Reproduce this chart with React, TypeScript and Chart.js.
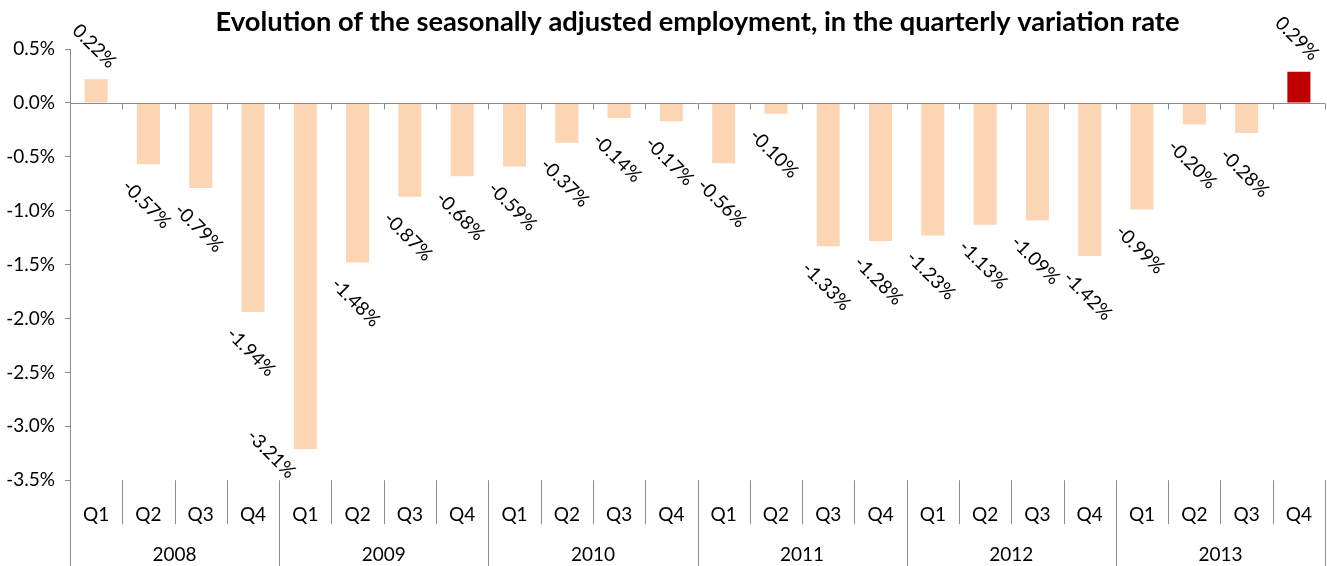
import React, { useEffect, useRef } from "react";
import { Chart, registerables } from "chart.js";

Chart.register(...registerables);

const TITLE = "Evolution of the seasonally adjusted employment, in the quarterly variation rate";
const YEARS = ["2008", "2009", "2010", "2011", "2012", "2013"];
const QUARTERS = ["Q1", "Q2", "Q3", "Q4"];
const CATEGORIES = YEARS.flatMap((y) => QUARTERS.map((q) => `${q} ${y}`));
const VALUES = [
  0.22, -0.57, -0.79, -1.94,
  -3.21, -1.48, -0.87, -0.68,
  -0.59, -0.37, -0.14, -0.17,
  -0.56, -0.10, -1.33, -1.28,
  -1.23, -1.13, -1.09, -1.42,
  -0.99, -0.20, -0.28, 0.29,
];
const HIGHLIGHT_INDEX = 23;
const Y_MIN = -3.5;
const Y_MAX = 0.5;
const Y_STEP = 0.5;

const FONT = "Lato, 'Noto Sans', sans-serif";
const AXIS_GREY = "#8c8c8c";
const PEACH = "#FCD5B5";
const DARK_RED = "#C00000";

const decorPlugin = {
  id: "decor",
  afterDatasetsDraw(chart: any) {
    const { ctx, chartArea, scales } = chart;
    const x = scales.x;
    const y = scales.y;
    const n = VALUES.length;
    const step = (x.getPixelForValue(1) - x.getPixelForValue(0));
    const zeroY = Math.round(y.getPixelForValue(0)) + 0.5;

    ctx.save();
    // zero line with tick marks
    ctx.strokeStyle = AXIS_GREY;
    ctx.lineWidth = 1;
    ctx.beginPath();
    ctx.moveTo(chartArea.left, zeroY);
    ctx.lineTo(chartArea.right, zeroY);
    for (let i = 1; i <= n; i++) {
      const bx = Math.round(x.getPixelForValue(i) - step / 2) + 0.5;
      ctx.moveTo(bx, zeroY);
      ctx.lineTo(bx, zeroY + 6);
    }
    ctx.stroke();

    // category separators
    const bottom = chartArea.bottom;
    const H = chart.height;
    ctx.beginPath();
    for (let i = 0; i <= n; i++) {
      const bx = Math.round(x.getPixelForValue(i) - step / 2) + 0.5;
      const isYear = i % 4 === 0;
      ctx.moveTo(bx, bottom);
      ctx.lineTo(bx, isYear ? H : bottom + 44);
    }
    ctx.stroke();

    // year labels
    ctx.fillStyle = "#000";
    ctx.font = `19px ${FONT}`;
    ctx.textAlign = "center";
    ctx.textBaseline = "middle";
    YEARS.forEach((yr, k) => {
      const cx = (x.getPixelForValue(k * 4) + x.getPixelForValue(k * 4 + 3)) / 2;
      ctx.fillText(yr, cx, bottom + 75);
    });

    // data labels, rotated 45°
    const meta = chart.getDatasetMeta(0);
    meta.data.forEach((bar: any, i: number) => {
      const v = VALUES[i];
      const label = v.toFixed(2) + "%";
      let cx = bar.x - 2;
      let cy = v >= 0 ? bar.y - 33 : bar.y + 40;
      if (v < 0 && cy + 22 > chartArea.bottom) {
        cx = bar.x - 34;
        cy = bar.y + 5;
      }
      ctx.save();
      ctx.translate(cx, cy);
      ctx.rotate(Math.PI / 4);
      ctx.fillText(label, 0, 0);
      ctx.restore();
    });

    // title
    ctx.font = `bold 27.3px ${FONT}`;
    ctx.fillText(TITLE, (chartArea.left + chartArea.right) / 2, 22);
    ctx.restore();
  },
};

export default function App() {
  const ref = useRef<HTMLCanvasElement | null>(null);
  useEffect(() => {
    if (!ref.current) return;
    const chart = new Chart(ref.current, {
      type: "bar",
      data: {
        labels: CATEGORIES,
        datasets: [
          {
            data: VALUES,
            backgroundColor: VALUES.map((_, i) => (i === HIGHLIGHT_INDEX ? DARK_RED : PEACH)),
            borderWidth: 0,
            barPercentage: 0.44,
            categoryPercentage: 1,
          },
        ],
      },
      options: {
        animation: false,
        responsive: true,
        maintainAspectRatio: false,
        layout: { padding: { top: 49, right: 0, bottom: 25, left: 0 } },
        plugins: { legend: { display: false }, tooltip: { enabled: false }, title: { display: false } },
        scales: {
          x: {
            grid: { display: false },
            border: { display: false },
            ticks: {
              font: { family: FONT, size: 19 },
              color: "#000",
              padding: 15,
              maxRotation: 0,
              autoSkip: false,
              callback: (_v: any, i: number) => QUARTERS[i % 4],
            },
          },
          y: {
            min: Y_MIN,
            max: Y_MAX,
            grid: { drawOnChartArea: false, drawTicks: true, tickLength: 5, color: AXIS_GREY },
            border: { display: true, color: AXIS_GREY },
            ticks: {
              stepSize: Y_STEP,
              font: { family: FONT, size: 19 },
              color: "#000",
              padding: 10,
              callback: (v: any) => Number(v).toFixed(1) + "%",
            },
            afterFit: (s: any) => { s.width = 70; },
          },
        },
      },
      plugins: [decorPlugin],
    });
    return () => chart.destroy();
  }, []);
  return (
    <div style={{ position: "fixed", left: 0, top: 0, width: 1327, height: 566, background: "#fff" }}>
      <canvas ref={ref} />
    </div>
  );
}
